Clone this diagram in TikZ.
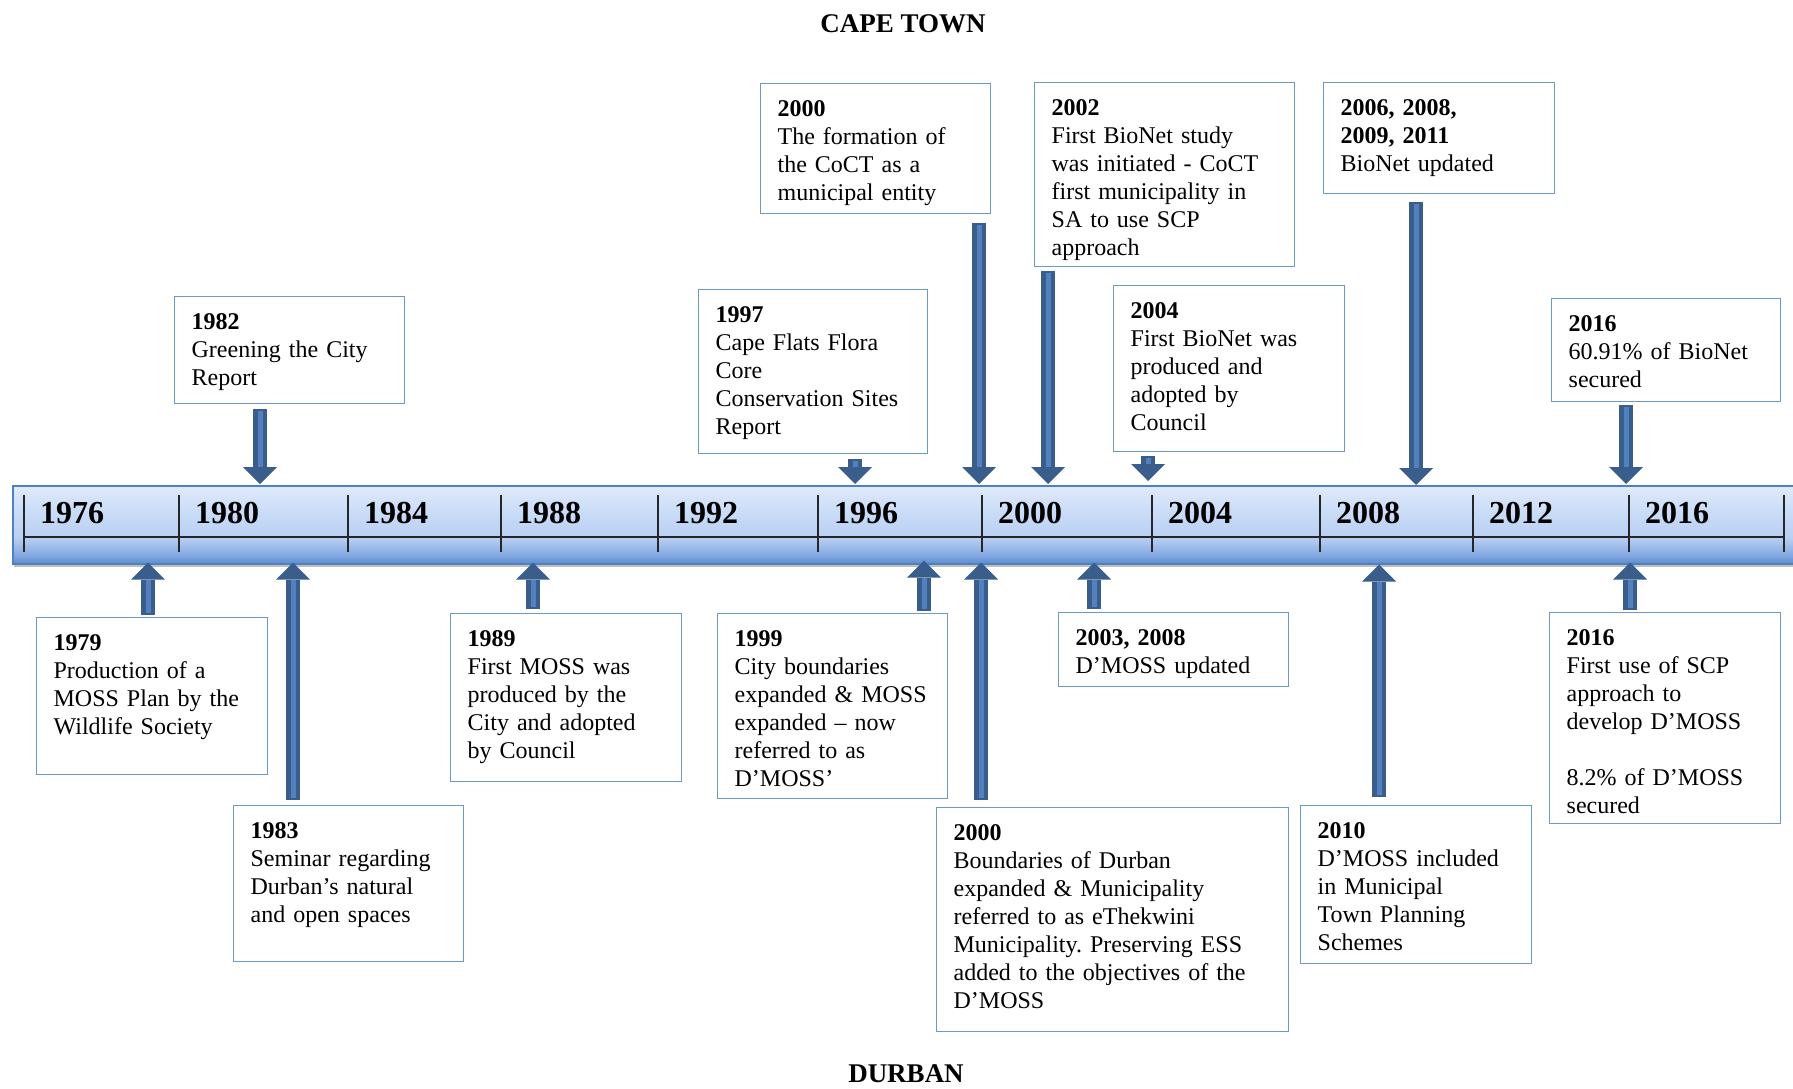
\documentclass[tikz,border=0pt]{standalone}
\usepackage{fontspec}
\setmainfont{Liberation Serif}
\usepackage{xcolor}
\usepackage{tikz}
\usetikzlibrary{arrows.meta,shadows}
\frenchspacing

\definecolor{boxline}{RGB}{112,150,206}
\definecolor{barline}{RGB}{79,129,189}
\definecolor{arrdark}{RGB}{58,94,140}
\definecolor{arrmid}{RGB}{84,128,190}
\definecolor{barA}{RGB}{92,140,210}
\definecolor{barB}{RGB}{128,166,224}
\definecolor{barC}{RGB}{168,196,238}
\definecolor{barD}{RGB}{185,208,242}
\definecolor{barE}{RGB}{198,217,246}
\definecolor{barF}{RGB}{223,234,252}
\pgfdeclareverticalshading{barshade}{100bp}{color(0bp)=(barA); color(25bp)=(barA);
  color(30bp)=(barB); color(38bp)=(barC); color(42bp)=(barD); color(55bp)=(barE);
  color(75bp)=(barF); color(100bp)=(barF)}

\newcommand{\tlbox}{\fontsize{24}{28}\selectfont}
\newcommand{\tlyear}{\fontsize{32}{36}\selectfont\bfseries}
\newcommand{\tlhead}{\fontsize{27}{30}\selectfont\bfseries}

\begin{document}
\begin{tikzpicture}[x=1pt,y=-1pt,
    evbox/.style 2 args={draw=boxline,fill=white,line width=1.3pt,anchor=north west,
      align=left,font=\tlbox,inner xsep=17pt,inner ysep=0pt,
      text width=#1pt-34pt,text height=33pt,text depth=#2pt-33pt},
    barbox/.style={draw=barline,line width=1.5pt,shading=barshade,inner sep=0pt,
      drop shadow={shadow xshift=1pt,shadow yshift=-3pt,fill=black,opacity=.25}},
    tickln/.style={draw=black!85,line width=1.6pt},
    yearlbl/.style={font=\tlyear,anchor=base west,inner sep=0pt},
    blockarr/.style={draw=arrdark,line width=14pt,
      -{Triangle[width=34pt,length=17pt,line width=0pt]}},
    blockin/.style={draw=arrmid,line width=5pt}]
  \useasboundingbox (0,0) rectangle (1793,1088);

  % titles
  \node[font=\tlhead,anchor=base,inner sep=0pt] (capetown) at (903,32) {CAPE TOWN};
  \node[font=\tlhead,anchor=base,inner sep=0pt] (durban) at (906,1082) {DURBAN};

  % the time bar
  \node[barbox,minimum width=1800pt,minimum height=78pt,anchor=north west] (bar) at (12,485) {};
  \draw[tickln] (24,537) -- (1784,537);
  \foreach \x in {24,179,348,501,658,818,982,1152,1320,1473,1629,1784}
    \draw[tickln] (\x,495) -- (\x,552);
  \foreach \x/\yr in {24/1976,179/1980,348/1984,501/1988,658/1992,818/1996,
                      982/2000,1152/2004,1320/2008,1473/2012,1629/2016}
    \node[yearlbl] (y\yr) at (\x+16,523) {\yr};

  % Cape Town events
  \node[evbox={230}{107}] (b1982) at (174,296) {\textbf{1982}\\Greening the City\\Report};
  \node[evbox={229}{164}] (b1997) at (698,289) {\textbf{1997}\\Cape Flats Flora\\Core\\Conservation Sites\\Report};
  \node[evbox={230}{130}] (b2000c) at (760,83) {\textbf{2000}\\The formation of\\the CoCT as a\\municipal entity};
  \node[evbox={260}{184}] (b2002) at (1034,82) {\textbf{2002}\\First BioNet study\\was initiated - CoCT\\first municipality in\\SA to use SCP\\approach};
  \node[evbox={231}{166}] (b2004) at (1113,285) {\textbf{2004}\\First BioNet was\\produced and\\adopted by\\Council};
  \node[evbox={231}{111}] (b2006) at (1323,82) {\textbf{2006, 2008,}\\\textbf{2009, 2011}\\BioNet updated};
  \node[evbox={229}{103}] (b2016t) at (1551,298) {\textbf{2016}\\60.91\% of BioNet\\secured};

  % Durban events
  \node[evbox={231}{157}] (b1979) at (36,617) {\textbf{1979}\\Production of a\\MOSS Plan by the\\Wildlife Society};
  \node[evbox={230}{156}] (b1983) at (233,805) {\textbf{1983}\\Seminar regarding\\Durban’s natural\\and open spaces};
  \node[evbox={231}{168}] (b1989) at (450,613) {\textbf{1989}\\First MOSS was\\produced by the\\City and adopted\\by Council};
  \node[evbox={230}{185}] (b1999) at (717,613) {\textbf{1999}\\City boundaries\\expanded \& MOSS\\expanded -- now\\referred to as\\D’MOSS’};
  \node[evbox={352}{224}] (b2000d) at (936,807) {\textbf{2000}\\Boundaries of Durban\\expanded \& Municipality\\referred to as eThekwini\\Municipality. Preserving ESS\\added to the objectives of the\\D’MOSS};
  \node[evbox={230}{74}] (b2003) at (1058,612) {\textbf{2003, 2008}\\D’MOSS updated};
  \node[evbox={231}{158}] (b2010) at (1300,805) {\textbf{2010}\\D’MOSS included\\in Municipal\\Town Planning\\Schemes};
  \node[evbox={231}{211}] (b2016b) at (1549,612) {\textbf{2016}\\First use of SCP\\approach to\\develop D’MOSS\\[28pt]8.2\% of D’MOSS\\secured};

  % arrows down to the bar
  \foreach \bx/\x/\sgap/\egap in {b1982/260/5/1,b1997/855/5/1,b2000c/979/9/1,b2002/1048/4/1,
                                  b2004/1148/4/4,b2006/1416/8/0,b2016t/1626/3/1}{
    \draw[blockarr,shorten <=\sgap pt,shorten >=\egap pt] (\bx.south -| \x,0) -- (bar.north -| \x,0);
    \draw[blockin,shorten <=\sgap pt+2pt,shorten >=\egap pt+17pt] (\bx.south -| \x,0) -- (bar.north -| \x,0);
  }
  % arrows up to the bar
  \foreach \bx/\x/\sgap/\egap in {b1979/148/2/-2,b1983/293/5/-2,b1989/533/4/-2,b1999/924/2/-4,
                                  b2000d/981/7/-2,b2003/1094/3/-2,b2010/1379/8/0,b2016b/1630/2/-2}{
    \draw[blockarr,shorten <=\sgap pt,shorten >=\egap pt] (\bx.north -| \x,0) -- (bar.south -| \x,0);
    \draw[blockin,shorten <=\sgap pt+2pt,shorten >=\egap pt+17pt] (\bx.north -| \x,0) -- (bar.south -| \x,0);
  }
\end{tikzpicture}
\end{document}
